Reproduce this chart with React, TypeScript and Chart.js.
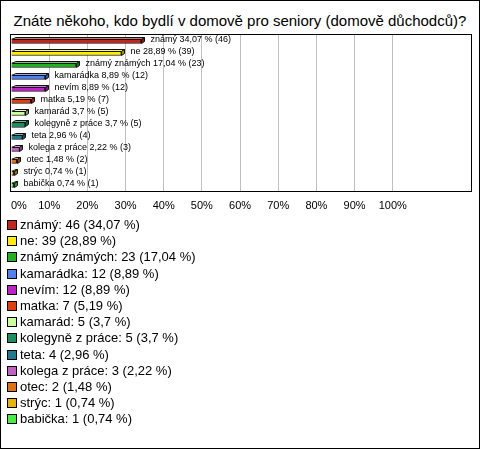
import React, { useEffect, useRef } from "react";
import { Chart, registerables } from "chart.js";

Chart.register(...registerables);

const title = "Znáte někoho, kdo bydlí v domově pro seniory (domově důchodců)?";
const categories = [
  "známý",
  "ne",
  "známý známých",
  "kamarádka",
  "nevím",
  "matka",
  "kamarád",
  "kolegyně z práce",
  "teta",
  "kolega z práce",
  "otec",
  "strýc",
  "babička",
];
const counts = [46, 39, 23, 12, 12, 7, 5, 5, 4, 3, 2, 1, 1];
const percents = [34.07, 28.89, 17.04, 8.89, 8.89, 5.19, 3.7, 3.7, 2.96, 2.22, 1.48, 0.74, 0.74];
const colors = [
  "#C4261D",
  "#FFEE00",
  "#1FB41F",
  "#4F81F5",
  "#C020C8",
  "#E0400E",
  "#CCFF99",
  "#199060",
  "#207A8F",
  "#C060C0",
  "#E07010",
  "#E8B400",
  "#44EE44",
];
const tickStep = 10;
const tickMaxShown = 100;
const axisMax = 120.5;

const FONT = "Arial, 'Liberation Sans', sans-serif";
const fmt = (v: number) => String(v).replace(".", ",");

function shade(hex: string, f: number) {
  const n = parseInt(hex.slice(1), 16);
  let r = (n >> 16) & 255, g = (n >> 8) & 255, b = n & 255;
  if (f >= 0) {
    r = Math.round(r + (255 - r) * f);
    g = Math.round(g + (255 - g) * f);
    b = Math.round(b + (255 - b) * f);
  } else {
    r = Math.round(r * (1 + f));
    g = Math.round(g * (1 + f));
    b = Math.round(b * (1 + f));
  }
  return `rgb(${r},${g},${b})`;
}

const bar3d = {
  id: "bar3d",
  afterDatasetsDraw(chart: any) {
    const ctx = chart.ctx;
    const meta = chart.getDatasetMeta(0);
    const dx = 3, dy = 2;
    meta.data.forEach((el: any, i: number) => {
      const left = Math.round(el.base) + 0.5;
      const right = Math.round(el.x) + 0.5;
      const top = Math.round(el.y - el.height / 2) + 0.5;
      const bottom = Math.round(el.y + el.height / 2) - 0.5;
      ctx.save();
      ctx.lineWidth = 1;
      ctx.strokeStyle = "#111";
      // top face
      ctx.beginPath();
      ctx.moveTo(left, top);
      ctx.lineTo(left + dx, top - dy);
      ctx.lineTo(right + dx, top - dy);
      ctx.lineTo(right, top);
      ctx.closePath();
      ctx.fillStyle = shade(colors[i], 0.35);
      ctx.fill();
      ctx.stroke();
      // right face
      ctx.beginPath();
      ctx.moveTo(right, top);
      ctx.lineTo(right + dx, top - dy);
      ctx.lineTo(right + dx, bottom - dy);
      ctx.lineTo(right, bottom);
      ctx.closePath();
      ctx.fillStyle = shade(colors[i], -0.35);
      ctx.fill();
      ctx.stroke();
      // label
      ctx.fillStyle = "#000";
      ctx.font = `9px ${FONT}`;
      ctx.textBaseline = "middle";
      ctx.textAlign = "left";
      ctx.fillText(
        `${categories[i]} ${fmt(percents[i])} % (${counts[i]})`,
        right + dx + 6,
        el.y - 1
      );
      ctx.restore();
    });
  },
  afterDraw(chart: any) {
    const { ctx, chartArea } = chart;
    ctx.save();
    ctx.strokeStyle = "#000";
    ctx.lineWidth = 1;
    ctx.strokeRect(
      Math.round(chartArea.left) - 0.5,
      Math.round(chartArea.top) - 0.5,
      Math.round(chartArea.right - chartArea.left) + 1,
      Math.round(chartArea.bottom - chartArea.top) + 1
    );
    ctx.restore();
  },
};

export default function App() {
  const ref = useRef<HTMLCanvasElement>(null);
  useEffect(() => {
    if (!ref.current) return;
    const chart = new Chart(ref.current, {
      type: "bar",
      data: {
        labels: categories,
        datasets: [
          {
            data: percents,
            backgroundColor: colors,
            borderColor: "#111",
            borderWidth: 1,
            barThickness: 5,
          },
        ],
      },
      options: {
        indexAxis: "y",
        responsive: false,
        animation: false,
        devicePixelRatio: 1,
        layout: { padding: { left: 11, right: 9, top: 35, bottom: 0 } },
        plugins: { legend: { display: false }, tooltip: { enabled: false } },
        scales: {
          x: {
            type: "linear",
            min: 0,
            max: axisMax,
            afterFit: (s: any) => {
              s.height = 29;
            },
            border: { display: false },
            grid: {
              drawTicks: false,
              color: (c: any) =>
                c.tick && c.tick.value > 0 && c.tick.value <= tickMaxShown ? "#C0C0C0" : "transparent",
            },
            ticks: {
              stepSize: tickStep,
              padding: 8,
              align: "inner",
              color: "#000",
              font: { family: FONT, size: 11 },
              callback: (v: any) => (v <= tickMaxShown && v % tickStep === 0 ? `${v}%` : ""),
            },
          },
          y: { display: false },
        },
      },
      plugins: [bar3d],
    } as any);
    return () => chart.destroy();
  }, []);

  return (
    <div
      style={{
        position: "fixed",
        left: 0,
        top: 0,
        width: 480,
        height: 449,
        boxSizing: "border-box",
        border: "1px solid #000",
        background: "#fff",
        fontFamily: FONT,
        overflow: "hidden",
      }}
    >
      <div
        style={{
          position: "absolute",
          left: 0,
          top: 11,
          width: 478,
          textAlign: "center",
          fontSize: 15,
          lineHeight: "18px",
          color: "#000",
        }}
      >
        {title}
      </div>
      <canvas
        ref={ref}
        width={480}
        height={220}
        style={{ position: "absolute", left: -1, top: -1, display: "block" }}
      />
      <div style={{ position: "absolute", left: 6, top: 216 }}>
        {categories.map((c, i) => (
          <div
            key={c}
            style={{ fontSize: 13, lineHeight: "16.2px", whiteSpace: "nowrap", color: "#000" }}
          >
            <span
              style={{
                display: "inline-block",
                width: 8,
                height: 8,
                border: "1px solid #000",
                background: colors[i],
                marginRight: 3,
                verticalAlign: "-1px",
              }}
            />
            {`${c}: ${counts[i]} (${fmt(percents[i])} %)`}
          </div>
        ))}
      </div>
    </div>
  );
}
